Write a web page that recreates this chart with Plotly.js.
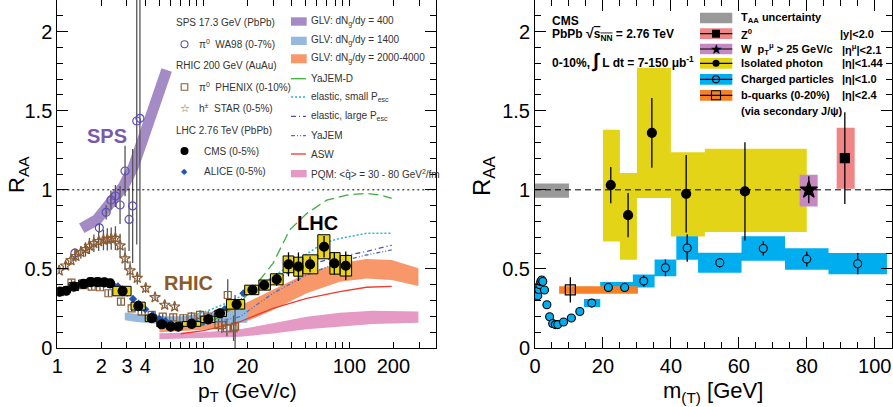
<!DOCTYPE html>
<html><head><meta charset="utf-8">
<script src="https://cdn.plot.ly/plotly-3.0.1.min.js"></script>
<style>html,body{margin:0;padding:0;background:#fff}#chart{width:893px;height:407px}</style>
</head><body><div id="chart"></div>
<script>
// ---------------- LEFT PANEL DATA (R_AA vs pT) ----------------
// GLV dNg/dy=400 (SPS)
const spsX = [1.47, 1.86, 2.30, 2.83, 3.32, 3.89, 4.55, 5.05, 5.61];
const spsR = [0.757, 0.81, 0.915, 1.02, 1.146, 1.336, 1.48, 1.65, 1.757];
// GLV dNg/dy=1400
const glv1400X  = [2.9, 3.5, 4.5, 5.5, 7, 10, 14, 20];
const glv1400Lo = [0.175, 0.165, 0.155, 0.15, 0.148, 0.148, 0.152, 0.16];
const glv1400Hi = [0.225, 0.215, 0.205, 0.2, 0.2, 0.21, 0.23, 0.25];
// GLV dNg/dy=2000-4000
const glvLhcX  = [5, 7, 10, 14, 20, 30, 51, 86, 131, 195, 297];
const glvLhcLo = [0.10, 0.105, 0.115, 0.135, 0.17, 0.24, 0.346, 0.419, 0.44, 0.43, 0.392];
const glvLhcHi = [0.145, 0.16, 0.19, 0.235, 0.29, 0.367, 0.472, 0.535, 0.562, 0.556, 0.504];
// PQM
const pqmX  = [5, 7, 10, 14, 17.8, 30, 51, 86, 145, 297];
const pqmLo = [0.055, 0.057, 0.063, 0.068, 0.071, 0.092, 0.118, 0.135, 0.152, 0.16];
const pqmHi = [0.093, 0.095, 0.10, 0.11, 0.118, 0.156, 0.198, 0.223, 0.236, 0.23];
// curves
const yajemDX = [9.5, 12, 15, 18, 22, 30, 39, 51, 70, 96, 131, 162, 195];
const yajemDR = [0.145, 0.18, 0.235, 0.29, 0.38, 0.535, 0.746, 0.85, 0.935, 0.967, 0.978, 0.967, 0.946];
const elSmallX = [8, 10, 15, 22, 30, 40, 54, 66, 86, 131, 195];
const elSmallR = [0.2, 0.225, 0.29, 0.367, 0.45, 0.53, 0.609, 0.662, 0.693, 0.725, 0.725];
const elLargeX = [8, 10, 14, 18, 30, 51, 86, 131, 195];
const elLargeR = [0.18, 0.2, 0.26, 0.31, 0.43, 0.525, 0.577, 0.61, 0.65];
const yajemX = [8, 10, 13, 17.8, 30, 51, 86, 131, 195];
const yajemR = [0.13, 0.145, 0.17, 0.198, 0.346, 0.461, 0.546, 0.588, 0.62];
const aswX = [7, 10, 14, 17.8, 30, 51, 86, 131, 195];
const aswR = [0.09, 0.11, 0.14, 0.166, 0.251, 0.314, 0.356, 0.384, 0.39];
// WA98 pi0
const wa98X = [1.32, 1.94, 2.16, 2.33, 2.50, 2.69, 2.91, 3.10, 3.28, 3.50, 3.68];
const wa98R = [0.60, 0.76, 0.858, 0.935, 0.961, 0.904, 1.119, 0.813, 0.898, 1.435, 1.452];
const wa98E = [0.03, 0.03, 0.045, 0.06, 0.07, 0.12, 0.16, 0.2, 0.36, 0.78, 1.0];
// STAR h+-
const starX = [1.03, 1.14, 1.24, 1.34, 1.45, 1.56, 1.66, 1.78, 1.92, 2.07, 2.20, 2.34, 2.50, 2.69, 2.91, 3.15, 3.53, 4.03, 4.67, 5.44, 6.36];
const starR = [0.489, 0.52, 0.554, 0.58, 0.605, 0.624, 0.645, 0.662, 0.674, 0.683, 0.687, 0.691, 0.695, 0.647, 0.565, 0.489, 0.442, 0.379, 0.32, 0.272, 0.261];
const starE = [0.02, 0.025, 0.03, 0.035, 0.04, 0.045, 0.05, 0.055, 0.06, 0.065, 0.07, 0.07, 0.075, 0.075, 0.07, 0.06, 0.04, 0.03, 0.02, 0.02, 0.02];
// PHENIX pi0
const phenX = [1.25, 1.51, 1.72, 1.96, 2.24, 2.73, 3.23, 3.78, 4.43, 5.27, 6.22, 7.3, 8.3, 9.5, 10.8, 12.7, 13.4, 14.5, 14.7, 16.1, 16.5];
const phenR = [0.413, 0.398, 0.388, 0.384, 0.346, 0.293, 0.251, 0.23, 0.209, 0.198, 0.194, 0.188, 0.198, 0.209, 0.198, 0.145, 0.145, 0.125, 0.335, 0.125, 0.135];
const phenE = [0.02, 0.02, 0.02, 0.02, 0.02, 0.02, 0.02, 0.02, 0.02, 0.02, 0.02, 0.025, 0.03, 0.03, 0.035, 0.04, 0.05, 0.05, 0.1, 0.08, 0.2];
// ALICE
const aliceX = [2.2, 2.4, 2.6, 2.8, 3.0, 3.3, 3.6, 4.0, 4.5, 5.0, 5.5, 6.0, 7.0, 8.0, 9.0, 10.0, 11.0, 12.5, 14.0, 16.0, 18.8];
const aliceR = [0.41, 0.40, 0.39, 0.37, 0.35, 0.31, 0.28, 0.245, 0.21, 0.185, 0.17, 0.155, 0.145, 0.15, 0.16, 0.17, 0.19, 0.215, 0.245, 0.285, 0.346];
// CMS charged (0-5%)
const cmsX = [1.04, 1.15, 1.30, 1.51, 1.69, 1.89, 2.10, 2.30, 2.80, 3.59, 4.43, 5.19, 5.98, 6.74, 8.32, 10.8, 13.0, 16.9, 21.7, 26.1, 31.8, 38.3, 44.8, 53.8, 67.1, 78.9, 94.5];
const cmsR = [0.356, 0.362, 0.388, 0.405, 0.417, 0.417, 0.415, 0.409, 0.36, 0.265, 0.188, 0.15, 0.135, 0.135, 0.152, 0.181, 0.219, 0.276, 0.367, 0.398, 0.434, 0.529, 0.514, 0.529, 0.64, 0.535, 0.52];
const cmsBinLo = [1.0, 1.1, 1.2, 1.4, 1.6, 1.8, 2.0, 2.2, 2.4, 3.2, 4.0, 4.8, 5.6, 6.4, 7.2, 9.6, 12.0, 14.4, 19.2, 24.0, 28.8, 35.2, 41.6, 48.0, 60.8, 73.6, 86.4];
const cmsBinHi = [1.1, 1.2, 1.4, 1.6, 1.8, 2.0, 2.2, 2.4, 3.2, 4.0, 4.8, 5.6, 6.4, 7.2, 9.6, 12.0, 14.4, 19.2, 24.0, 28.8, 35.2, 41.6, 48.0, 60.8, 73.6, 86.4, 103.6];
const cmsSys  = [0.025, 0.025, 0.025, 0.025, 0.025, 0.025, 0.025, 0.025, 0.03, 0.025, 0.02, 0.015, 0.015, 0.015, 0.015, 0.02, 0.02, 0.03, 0.03, 0.032, 0.035, 0.053, 0.06, 0.06, 0.076, 0.068, 0.065];
const cmsStat = [0.005, 0.005, 0.005, 0.005, 0.005, 0.005, 0.005, 0.005, 0.006, 0.006, 0.006, 0.006, 0.006, 0.006, 0.008, 0.01, 0.012, 0.02, 0.02, 0.03, 0.04, 0.076, 0.09, 0.05, 0.068, 0.07, 0.09];
const xTickVals = [1, 2, 3, 4, 10, 20, 100, 200];
const xTickText = ['1', '2', '3', '4', '10', '20', '100', '200'];

// ---------------- RIGHT PANEL DATA (R_AA vs m(T)) ----------------
const taaX = [0, 10];
const taaR = [0.95, 1.04];
const phoBinLo = [20, 25, 30, 40, 50];
const phoBinHi = [25, 30, 40, 50, 80];
const phoX = [22.3, 27.4, 34.4, 44.5, 61.8];
const phoR = [1.03, 0.84, 1.36, 0.975, 0.99];
const phoStat = [0.115, 0.14, 0.22, 0.245, 0.31];
const phoSysLo = [0.674, 0.558, 0.949, 0.705, 0.733];
const phoSysHi = [1.379, 1.107, 1.771, 1.238, 1.259];
const zX = [91.2], zR = [1.2], zStat = [0.29], zBinLo = [88.8], zBinHi = [94.1], zSysLo = [1.006], zSysHi = [1.392];
const wX = [80.6], wR = [1.0], wStat = [0.085], wBinLo = [77.9], wBinHi = [83.2], wSysLo = [0.895], wSysHi = [1.095];
const bX = [10.4], bR = [0.368], bStat = [0.08], bBinLo = [7.1], bBinHi = [30.3], bSysLo = [0.343], bSysHi = [0.39];
const chX = [0.8, 1.1, 1.4, 1.7, 2.0, 2.3, 2.8, 3.5, 4.3, 5.2, 6.0, 6.7, 8.4, 10.7, 13.2, 16.7, 21.6, 26.4, 32.0, 38.4, 44.8, 54.4, 67.2, 80.0, 95.0];
const chR = [0.33, 0.37, 0.40, 0.42, 0.43, 0.42, 0.367, 0.273, 0.198, 0.155, 0.148, 0.148, 0.164, 0.19, 0.231, 0.284, 0.383, 0.383, 0.423, 0.507, 0.632, 0.539, 0.629, 0.562, 0.533];
const chBinLo = [0.7, 1.0, 1.3, 1.6, 1.9, 2.2, 2.4, 3.2, 4.0, 4.8, 5.6, 6.4, 7.2, 9.6, 12.0, 14.4, 19.2, 24.0, 28.8, 35.2, 41.6, 48.0, 60.8, 73.6, 86.4];
const chBinHi = [0.9, 1.2, 1.5, 1.8, 2.1, 2.4, 3.2, 4.0, 4.8, 5.6, 6.4, 7.2, 9.6, 12.0, 14.4, 19.2, 24.0, 28.8, 35.2, 41.6, 48.0, 60.8, 73.6, 86.4, 103.6];
const chSys  = [0.015, 0.015, 0.015, 0.015, 0.015, 0.015, 0.015, 0.015, 0.012, 0.01, 0.01, 0.01, 0.012, 0.014, 0.017, 0.025, 0.035, 0.035, 0.041, 0.053, 0.074, 0.063, 0.077, 0.068, 0.067];
const chStat = [0.01, 0.01, 0.01, 0.01, 0.01, 0.01, 0.01, 0.01, 0.01, 0.01, 0.01, 0.01, 0.01, 0.01, 0.012, 0.02, 0.02, 0.02, 0.035, 0.053, 0.087, 0.03, 0.046, 0.047, 0.067];

// ---------------- helpers ----------------
function band(x, lo, hi) { return { x: x.concat(x.slice().reverse()), y: hi.concat(lo.slice().reverse()) }; }
function boxes(xlo, xhi, ylo, yhi) {
  const x = [], y = [];
  for (let i = 0; i < xlo.length; i++) {
    x.push(xlo[i], xhi[i], xhi[i], xlo[i], xlo[i], null);
    y.push(ylo[i], ylo[i], yhi[i], yhi[i], ylo[i], null);
  }
  return { x, y };
}
const minus = (a, b) => a.map((v, i) => v - b[i]);
const plus = (a, b) => a.map((v, i) => v + b[i]);
function fillTrace(xy, color, ax, ay, lineColor, lineW) {
  return { type: 'scatter', mode: 'lines', x: xy.x, y: xy.y, fill: 'toself', fillcolor: color,
    line: { color: lineColor || color, width: lineW === undefined ? 0 : lineW }, xaxis: ax, yaxis: ay, hoverinfo: 'skip', connectgaps: false };
}
function curve(x, y, color, dash, w) {
  return { type: 'scatter', mode: 'lines', x, y, line: { color, dash, width: w || 1.3 }, xaxis: 'x', yaxis: 'y', hoverinfo: 'skip' };
}
function pts(x, y, err, sym, size, col, lcol, errcol, ax, ay, lw) {
  const t = { type: 'scatter', mode: 'markers', x, y, xaxis: ax, yaxis: ay,
    marker: { symbol: sym, size, color: col, line: { color: lcol, width: lw || 1.2 } } };
  if (err) t.error_y = { type: 'data', array: err, visible: true, color: errcol, thickness: 1.3, width: 0 };
  return t;
}

const cYel = '#e6d51c';
const traces = [
  // left panel
  fillTrace(band(pqmX, pqmLo, pqmHi), '#e59ac6', 'x', 'y'),
  fillTrace(band(glvLhcX, glvLhcLo, glvLhcHi), '#f7976a', 'x', 'y'),
  fillTrace(band(glv1400X, glv1400Lo, glv1400Hi), '#95b9dc', 'x', 'y'),
  { type: 'scatter', mode: 'lines', x: spsX, y: spsR, line: { color: '#a48bc5', width: 11 }, xaxis: 'x', yaxis: 'y', hoverinfo: 'skip' },
  curve(aswX, aswR, '#ee3a2e', 'solid'),
  curve(yajemX, yajemR, '#4b6fc4', '4px,2px,1px,2px,1px,2px'),
  curve(elLargeX, elLargeR, '#5d4fb0', '5px,3px,1px,3px'),
  curve(elSmallX, elSmallR, '#2bb5cf', '2px,2px', 1.5),
  curve(yajemDX, yajemDR, '#3cae3c', '10px,5px'),
  pts(wa98X, wa98R, wa98E, 'circle-open', 8, '#5d50b8', '#5d50b8', '#555', 'x', 'y'),
  pts(starX, starR, starE, 'star-open', 8, '#8c5c32', '#8c5c32', '#555', 'x', 'y'),
  pts(phenX, phenR, phenE, 'square-open', 7, '#8c5c32', '#8c5c32', '#555', 'x', 'y'),
  pts(aliceX, aliceR, null, 'diamond', 5, '#2255b0', '#2255b0', '#2255b0', 'x', 'y', 0),
  fillTrace(boxes(cmsBinLo, cmsBinHi, minus(cmsR, cmsSys), plus(cmsR, cmsSys)), cYel, 'x', 'y', '#000', 1),
  pts(cmsX, cmsR, cmsStat, 'circle', 9, '#000', '#000', '#000', 'x', 'y', 0),
  // right panel
  fillTrace(boxes([taaX[0]], [taaX[1]], [taaR[0]], [taaR[1]]), '#999999', 'x2', 'y2'),
  fillTrace(boxes(phoBinLo, phoBinHi, phoSysLo, phoSysHi), '#e3d418', 'x2', 'y2'),
  fillTrace(boxes(wBinLo, wBinHi, wSysLo, wSysHi), '#c588c2', 'x2', 'y2'),
  fillTrace(boxes(zBinLo, zBinHi, zSysLo, zSysHi), '#f08585', 'x2', 'y2'),
  fillTrace(boxes(chBinLo, chBinHi, minus(chR, chSys), plus(chR, chSys)), '#00aeef', 'x2', 'y2'),
  fillTrace(boxes(bBinLo, bBinHi, bSysLo, bSysHi), '#f58025', 'x2', 'y2'),
  pts(phoX, phoR, phoStat, 'circle', 9, '#000', '#000', '#000', 'x2', 'y2', 0),
  pts(wX, wR, wStat, 'star', 13, '#000', '#000', '#000', 'x2', 'y2', 0),
  pts(zX, zR, zStat, 'square', 9, '#000', '#000', '#000', 'x2', 'y2', 0),
  pts(chX, chR, chStat, 'circle', 8, '#00aeef', '#000', '#000', 'x2', 'y2', 1.1),
  pts(bX, bR, bStat, 'square-open', 10, '#000', '#000', '#000', 'x2', 'y2', 1.2)
];

// ---------------- layout ----------------
const W = 893, H = 407;
const PX = p => p / W, PY = p => 1 - p / H;
const FONT = 'Liberation Sans, Arial, Helvetica, sans-serif';
const ax = { showline: true, linecolor: '#000', linewidth: 1, mirror: 'ticks', ticks: 'inside', tickcolor: '#000', tickwidth: 1,
  showgrid: false, zeroline: false, tickfont: { size: 20, family: FONT, color: '#000' } };
const yDom = [PY(348), 1];
const logRange = [0, Math.log10(392)];
const layout = {
  width: W, height: H, margin: { l: 0, r: 0, t: 0, b: 0 }, paper_bgcolor: '#fff', plot_bgcolor: 'rgba(0,0,0,0)', showlegend: false,
  font: { family: FONT, color: '#000' },
  xaxis: Object.assign({}, ax, { type: 'log', domain: [PX(57.3), PX(436)], range: logRange, anchor: 'y',
    tickmode: 'array', tickvals: xTickVals, ticktext: xTickText, ticklen: 6,
    minor: { tickvals: [5, 6, 7, 8, 9, 30, 40, 50, 60, 70, 80, 90, 300], ticklen: 6, ticks: 'inside', tickcolor: '#000' } }),
  xaxis3: { type: 'log', overlaying: 'x', anchor: 'y', range: logRange, tickmode: 'array', tickvals: [1, 10, 100], ticks: 'inside', ticklen: 11,
    tickcolor: '#000', showticklabels: false, showline: false, mirror: 'ticks', showgrid: false, zeroline: false },
  yaxis: Object.assign({}, ax, { domain: yDom, range: [0, 2.2], anchor: 'x', tick0: 0, dtick: 0.5, ticklen: 11,
    minor: { dtick: 0.1, ticklen: 6, ticks: 'inside', tickcolor: '#000' } }),
  xaxis2: Object.assign({}, ax, { domain: [PX(535), PX(891.7)], range: [0, 105], anchor: 'y2', tick0: 0, dtick: 20, ticklen: 11,
    minor: { dtick: 5, ticklen: 6, ticks: 'inside', tickcolor: '#000' } }),
  yaxis2: Object.assign({}, ax, { domain: yDom, range: [0, 2.2], anchor: 'x2', tick0: 0, dtick: 0.5, ticklen: 11,
    minor: { dtick: 0.1, ticklen: 6, ticks: 'inside', tickcolor: '#000' } }),
  shapes: [], annotations: []
};
// reference lines at R=1
layout.shapes.push({ type: 'line', xref: 'x domain', yref: 'y', x0: 0, x1: 1, y0: 1, y1: 1, line: { color: '#000', width: 1, dash: '2px,3px' } });
layout.shapes.push({ type: 'line', xref: 'x2 domain', yref: 'y2', x0: 0, x1: 1, y0: 1, y1: 1, line: { color: '#000', width: 1, dash: '6px,4px' } });

function txt(text, px, py, size, color, opts) {
  layout.annotations.push(Object.assign({ text, xref: 'paper', yref: 'paper', x: PX(px), y: PY(py), xanchor: 'left', yanchor: 'middle',
    showarrow: false, font: { size, color, family: FONT } }, opts || {}));
}
function rectPx(x0, x1, y0, y1, fill, lineCol, lw) {
  layout.shapes.push({ type: 'rect', xref: 'paper', yref: 'paper', x0: PX(x0), x1: PX(x1), y0: PY(y1), y1: PY(y0),
    fillcolor: fill, line: { color: lineCol || fill, width: lw || 0 } });
}
function linePx(x0, x1, y, col, dash, w) {
  layout.shapes.push({ type: 'line', xref: 'paper', yref: 'paper', x0: PX(x0), x1: PX(x1), y0: PY(y), y1: PY(y), line: { color: col, width: w || 1.3, dash: dash || 'solid' } });
}
function markPx(type, cx, cy, r, fill, lineCol, lw) {
  layout.shapes.push({ type, xref: 'paper', yref: 'paper', xsizemode: 'pixel', ysizemode: 'pixel', xanchor: PX(cx), yanchor: PY(cy),
    x0: -r, x1: r, y0: -r, y1: r, fillcolor: fill, line: { color: lineCol, width: lw } });
}

// Left legend, column 1
const LG = '#333';
txt('SPS 17.3 GeV (PbPb)', 174, 22.7, 10, LG);
markPx('circle', 184.5, 44.3, 3.5, 'rgba(0,0,0,0)', '#5d50b8', 1.1);
txt('π<sup>0</sup>\u00a0\u00a0WA98 (0-7%)', 197, 44.3, 10, LG);
txt('RHIC 200 GeV (AuAu)', 174, 65.7, 10, LG);
markPx('rect', 184.5, 87, 3.3, 'rgba(0,0,0,0)', '#8c5c32', 1.1);
txt('π<sup>0</sup>\u00a0\u00a0PHENIX (0-10%)', 197, 87, 10, LG);
txt('☆', 184.5, 108, 11, '#8c5c32', { xanchor: 'center' });
txt('h<sup>±</sup>\u00a0\u00a0STAR (0-5%)', 197, 108, 10, LG);
txt('LHC 2.76 TeV (PbPb)', 174, 130, 10, LG);
markPx('circle', 184.5, 151, 4, '#000', '#000', 0);
txt('CMS (0-5%)', 202, 151, 10, LG);
txt('◆', 184.5, 172, 8, '#2255b0', { xanchor: 'center' });
txt('ALICE (0-5%)', 202, 172, 10, LG);
// Left legend, column 2
rectPx(291, 306.7, 17.3, 25.7, '#a48bc5');
txt('GLV: dN<sub>g</sub>/dy = 400', 309.3, 21.5, 10, LG);
rectPx(291, 306.7, 36.7, 45, '#95b9dc');
txt('GLV: dN<sub>g</sub>/dy = 1400', 309.3, 40.8, 10, LG);
rectPx(291, 306.7, 54.3, 63.3, '#f7976a');
txt('GLV: dN<sub>g</sub>/dy = 2000-4000', 309.3, 58.8, 10, LG);
linePx(291, 306, 78.7, '#3cae3c', 'solid');
txt('YaJEM-D', 309.3, 78.7, 10, LG);
linePx(291, 306, 97, '#2bb5cf', '2px,2px', 1.5);
txt('elastic, small P<sub>esc</sub>', 309.3, 97, 10, LG);
linePx(291, 306, 116.3, '#5d4fb0', '5px,3px,1px,3px');
txt('elastic, large P<sub>esc</sub>', 309.3, 116.3, 10, LG);
linePx(291, 306, 135.7, '#4b6fc4', '4px,2px,1px,2px,1px,2px');
txt('YaJEM', 309.3, 135.7, 10, LG);
linePx(291, 306, 154, '#ee3a2e', 'solid');
txt('ASW', 309.3, 154, 10, LG);
rectPx(291, 306.7, 170, 177.3, '#e59ac6');
txt('PQM: &lt;q̂&gt; = 30 - 80 GeV<sup>2</sup>/fm', 309.3, 173.7, 10, LG);
// left panel labels
txt('<b>SPS</b>', 107, 136, 20, '#7a5aa8', { xanchor: 'center' });
txt('<b>RHIC</b>', 188, 283, 20, '#8b5a2b', { xanchor: 'center' });
txt('<b>LHC</b>', 317, 223, 20, '#000', { xanchor: 'center' });
// axis titles
txt('R<sub>AA</sub>', 18, 175, 22, '#000', { xanchor: 'center', textangle: -90 });
txt('p<sub>T</sub> (GeV/c)', 247, 392, 21, '#000', { xanchor: 'center' });
txt('R<sub>AA</sub>', 483, 176, 24, '#000', { xanchor: 'center', textangle: -90 });
txt('m<sub>(T)</sub> [GeV]', 713, 392, 22, '#000', { xanchor: 'center' });

// Right panel header
txt('<b>CMS</b>', 550, 21, 12, '#000');
txt('<b>PbPb <span style="font-size:14px">√</span><span style="text-decoration:overline">s<sub>NN</sub></span> = 2.76 TeV</b>', 550, 34, 12, '#000');
txt('<b>0-10%, <span style="font-size:20px">∫</span> L dt = 7-150 μb<sup>-1</sup></b>', 550, 61, 12, '#000');
// Right legend
const RL = 700, RR = 732.3, RT = 739.3;
rectPx(RL, RR, 12.7, 23.3, '#999999');
txt('<b>T<sub>AA</sub> uncertainty</b>', RT, 17.7, 11, '#000');
rectPx(RL, RR, 28.3, 39, '#f08585'); linePx(RL, RR, 33.7, '#000', 'solid', 1.2); markPx('rect', 716, 33.7, 4, '#000', '#000', 0);
txt('<b>Z<sup>0</sup></b>', RT, 33.7, 11, '#000'); txt('<b>|y|&lt;2.0</b>', 838, 33.7, 11, '#000');
rectPx(RL, RR, 43.7, 54.3, '#c588c2'); linePx(RL, RR, 49, '#000', 'solid', 1.2);
txt('★', 716, 49, 14, '#000', { xanchor: 'center' });
txt('<b>W\u00a0\u00a0p<sub>T</sub><sup>μ</sup> &gt; 25 GeV/c</b>', RT, 49, 11, '#000'); txt('<b>|η<sup>μ</sup>|&lt;2.1</b>', 840, 49, 11, '#000');
rectPx(RL, RR, 58, 68.7, '#e3d418'); linePx(RL, RR, 63.3, '#000', 'solid', 1.2); markPx('circle', 716, 63.3, 3.5, '#000', '#000', 0);
txt('<b>Isolated photon</b>', RT, 63.3, 11, '#000'); txt('<b>|η|&lt;1.44</b>', 840, 63.3, 11, '#000');
rectPx(RL, RR, 74, 84.7, '#00aeef'); linePx(RL, RR, 79.3, '#000', 'solid', 1.2); markPx('circle', 716, 79.3, 3.5, 'rgba(0,0,0,0)', '#000', 1.1);
txt('<b>Charged particles</b>', RT, 79.3, 11, '#000'); txt('<b>|η|&lt;1.0</b>', 840, 79.3, 11, '#000');
rectPx(RL, RR, 90, 100.7, '#f58025'); linePx(RL, RR, 95.3, '#000', 'solid', 1.2); markPx('rect', 716, 95.3, 4.5, 'rgba(0,0,0,0)', '#000', 1.1);
txt('<b>b-quarks (0-20%)</b>', RT, 95.3, 11, '#000'); txt('<b>|η|&lt;2.4</b>', 840, 95.3, 11, '#000');
txt('<b>(via secondary J/ψ)</b>', RT, 110.5, 11, '#000');

Plotly.newPlot('chart', traces, layout, { staticPlot: true, displayModeBar: false });
</script></body></html>
